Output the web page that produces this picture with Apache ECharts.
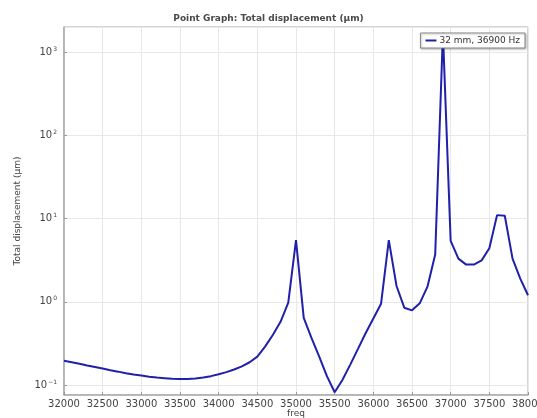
<!DOCTYPE html>
<html>
<head>
<meta charset="utf-8">
<script src="https://cdn.jsdelivr.net/npm/echarts@6/dist/echarts.min.js"></script>
<style>
html,body{margin:0;padding:0;background:#fff;}
#chart{width:537px;height:418px;}
</style>
</head>
<body>
<div id="chart"></div>
<script>
var chartTitle = 'Point Graph: Total displacement (µm)';
var seriesName = '32 mm, 36900 Hz';
var xAxisName = 'freq';
var yAxisName = 'Total displacement (µm)';

var freqs = [
  32000, 32100, 32200, 32300, 32400, 32500, 32600, 32700, 32800, 32900,
  33000, 33100, 33200, 33300, 33400, 33500, 33600, 33700, 33800, 33900,
  34000, 34100, 34200, 34300, 34400, 34500, 34600, 34700, 34800, 34900,
  35000, 35100, 35200, 35300, 35400, 35500, 35600, 35700, 35800, 35900,
  36000, 36100, 36200, 36300, 36400, 36500, 36600, 36700, 36800, 36900,
  37000, 37100, 37200, 37300, 37400, 37500, 37600, 37700, 37800, 37900,
  38000
];
var displacement = [
  0.196, 0.188, 0.180, 0.172, 0.165, 0.158, 0.151, 0.145, 0.139, 0.134,
  0.130, 0.126, 0.123, 0.121, 0.119, 0.118, 0.118, 0.120, 0.123, 0.128,
  0.135, 0.143, 0.154, 0.168, 0.188, 0.220, 0.290, 0.400, 0.575, 0.98,
  5.5, 0.64, 0.37, 0.22, 0.128, 0.082, 0.115, 0.175, 0.27, 0.42,
  0.63, 0.95, 5.5, 1.55, 0.85, 0.79, 0.96, 1.52, 3.7, 1700,
  5.4, 3.3, 2.8, 2.8, 3.15, 4.4, 11, 10.8, 3.3, 1.9,
  1.2
];
var xTicks = [32000, 32500, 33000, 33500, 34000, 34500, 35000, 35500, 36000, 36500, 37000, 37500, 38000];
var yTickExponents = [-1, 0, 1, 2, 3];

var chart = echarts.init(document.getElementById('chart'), null, {renderer: 'canvas'});
var data = freqs.map(function (f, i) { return [f, displacement[i]]; });
var FONT = 'DejaVu Sans';

chart.setOption({
  animation: false,
  backgroundColor: '#fff',
  title: {
    text: chartTitle,
    left: 'center',
    top: 9,
    textStyle: {fontFamily: FONT, fontSize: 9, fontWeight: 'bold', color: '#4a4a4a'}
  },
  legend: {
    right: 12,
    top: 33,
    data: [seriesName],
    backgroundColor: '#fff',
    borderColor: '#888',
    borderWidth: 1,
    padding: [3, 5, 3, 5],
    itemWidth: 11,
    itemHeight: 2,
    itemGap: 4,
    icon: 'rect',
    textStyle: {fontFamily: FONT, fontSize: 9, color: '#333', padding: [0, 0, 0, -2]},
    shadowColor: 'rgba(0,0,0,0.25)',
    shadowBlur: 2,
    shadowOffsetX: 1,
    shadowOffsetY: 1
  },
  grid: {left: 64, right: 9, top: 27, bottom: 23, show: true, borderColor: '#aaa', borderWidth: 1,
         containLabel: false, outerBoundsMode: 'none'},
  xAxis: {
    type: 'value',
    min: xTicks[0],
    max: xTicks[xTicks.length - 1],
    interval: 500,
    name: xAxisName,
    nameLocation: 'middle',
    nameGap: 14,
    nameMoveOverlap: false,
    nameTextStyle: {fontFamily: FONT, fontSize: 9, color: '#444', verticalAlign: 'top'},
    axisLine: {show: true, lineStyle: {color: '#aaa', width: 1.5}},
    axisTick: {show: true, inside: true, length: 3, lineStyle: {color: '#999'}},
    axisLabel: {
      margin: 4,
      hideOverlap: false,
      fontFamily: FONT, fontSize: 10, color: '#444',
      formatter: function (v) { return String(v); }
    },
    splitLine: {show: true, lineStyle: {color: '#e8e8e8', width: 1}}
  },
  yAxis: {
    type: 'log',
    logBase: 10,
    min: 0.076,
    max: 2000,
    name: yAxisName,
    nameLocation: 'middle',
    nameGap: 42,
    nameMoveOverlap: false,
    nameTextStyle: {fontFamily: FONT, fontSize: 9, color: '#444'},
    axisLine: {show: true, lineStyle: {color: '#aaa', width: 1.5}},
    axisTick: {show: true, inside: true, length: 3, lineStyle: {color: '#999'}},
    axisLabel: {
      margin: 7,
      showMinLabel: false,
      showMaxLabel: false,
      fontFamily: FONT, fontSize: 10, color: '#444',
      formatter: function (v) {
        var e = Math.round(Math.log(v) / Math.LN10);
        if (yTickExponents.indexOf(e) < 0) return '';
        return '10{sup|' + String(e).replace('-', '\u2212') + '}';
      },
      rich: {sup: {fontFamily: FONT, fontSize: 6, color: '#444', verticalAlign: 'top', padding: [0, 0, 6, 1]}}
    },
    splitLine: {show: true, lineStyle: {color: '#e8e8e8', width: 1}}
  },
  series: [{
    name: seriesName,
    type: 'line',
    data: data,
    showSymbol: false,
    symbol: 'none',
    lineStyle: {color: '#2020aa', width: 2},
    itemStyle: {color: '#2020aa'}
  }]
});
</script>
</body>
</html>
